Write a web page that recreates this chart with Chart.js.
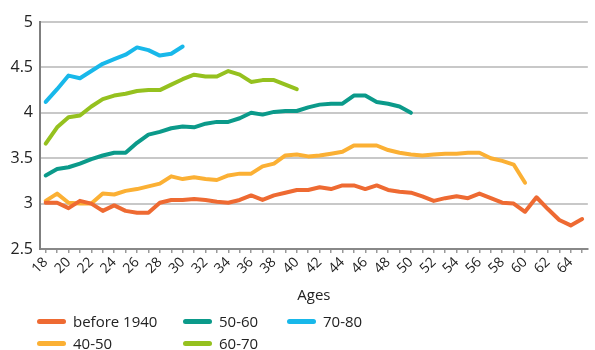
<!DOCTYPE html>
<html>
<head>
<meta charset="utf-8">
<script src="https://cdn.jsdelivr.net/npm/chart.js@4"></script>
<style>
  html, body { margin: 0; padding: 0; background: #fff; }
  #wrap { position: relative; width: 595px; height: 350px; font-family: "Open Sans", sans-serif; }
  #legend {
    position: absolute; left: 37px; top: 310px;
    display: grid; grid-template-columns: 146px 104px auto; grid-auto-flow: column;
    grid-template-rows: 22px 22px; font-size: 15px; color: #222;
  }
  .item { display: flex; align-items: center; white-space: nowrap; }
  .swatch { width: 29px; height: 5px; border-radius: 3px; margin-right: 7px; }
</style>
</head>
<body>
<div id="wrap">
  <canvas id="chart" width="595" height="350"></canvas>
  <div id="legend"></div>
</div>
<script>
// ages 18..65
const ages = [];
for (let a = 18; a <= 65; a++) ages.push(a);

const seriesNames = ["before 1940", "40-50", "50-60", "60-70", "70-80"];
const seriesColors = ["#ee6a32", "#fbb034", "#0b9a8a", "#95c11f", "#18b8ea"];

// before 1940, ages 18-65
const before1940 = [3.01, 3.01, 2.95, 3.03, 3.00, 2.92, 2.98, 2.92, 2.90, 2.90, 3.01, 3.04, 3.04, 3.05, 3.04, 3.02, 3.01,
  3.04, 3.09, 3.04, 3.09, 3.12, 3.15, 3.15, 3.18, 3.16, 3.20, 3.20, 3.16, 3.20, 3.15, 3.13,
  3.12, 3.08, 3.03, 3.06, 3.08, 3.06, 3.11, 3.06, 3.01, 3.00, 2.91, 3.07, 2.94, 2.82, 2.76, 2.83];
// 40-50, ages 18-60
const gen4050 = [3.03, 3.11, 3.01, 3.00, 3.00, 3.11, 3.10, 3.14, 3.16, 3.19, 3.22, 3.30, 3.27, 3.29, 3.27, 3.26, 3.31,
  3.33, 3.33, 3.41, 3.44, 3.53, 3.54, 3.52, 3.53, 3.55, 3.57, 3.64, 3.64, 3.64, 3.59, 3.56,
  3.54, 3.53, 3.54, 3.55, 3.55, 3.56, 3.56, 3.50, 3.47, 3.43, 3.23];
// 50-60, ages 18-50
const gen5060 = [3.31, 3.38, 3.40, 3.44, 3.49, 3.53, 3.56, 3.56, 3.67, 3.76, 3.79, 3.83, 3.85, 3.84, 3.88, 3.90, 3.90,
  3.94, 4.00, 3.98, 4.01, 4.02, 4.02, 4.06, 4.09, 4.10, 4.10, 4.19, 4.19, 4.12, 4.10, 4.07, 4.00];
// 60-70, ages 18-40
const gen6070 = [3.66, 3.84, 3.95, 3.97, 4.07, 4.15, 4.19, 4.21, 4.24, 4.25, 4.25, 4.31, 4.37, 4.42, 4.40, 4.40, 4.46,
  4.42, 4.34, 4.36, 4.36, 4.31, 4.26];
// 70-80, ages 18-30
const gen7080 = [4.12, 4.26, 4.41, 4.38, 4.46, 4.54, 4.59, 4.64, 4.72, 4.69, 4.63, 4.65, 4.73];

const seriesData = [before1940, gen4050, gen5060, gen6070, gen7080];

const datasets = seriesNames.map((name, i) => ({
  label: name,
  data: seriesData[i],
  borderColor: seriesColors[i],
  backgroundColor: seriesColors[i],
  borderWidth: 4,
  borderCapStyle: "round",
  borderJoinStyle: "round",
  pointRadius: 0,
  tension: 0,
  fill: false,
}));

const textColor = "#222";
Chart.defaults.font.family = '"Open Sans", sans-serif';

new Chart(document.getElementById("chart"), {
  type: "line",
  data: { labels: ages, datasets },
  options: {
    responsive: false,
    animation: false,
    layout: { padding: { top: 22, right: 0, bottom: 41, left: 0 } },
    plugins: { legend: { display: false }, tooltip: { enabled: false } },
    scales: {
      x: {
        offset: true,
        grid: { display: true, drawOnChartArea: false, drawTicks: true, tickLength: 4, color: "#999", lineWidth: 1.5 },
        border: { color: "#888", width: 2 },
        ticks: {
          autoSkip: false,
          minRotation: 45,
          maxRotation: 45,
          padding: 1,
          color: textColor,
          font: { size: 14 },
          callback: (v, i) => (ages[i] % 2 === 0 ? String(ages[i]) : ""),
        },
        title: { display: true, text: "Ages", color: textColor, font: { size: 15 }, padding: { top: 4, bottom: 4 } },
        afterFit: (scale) => { scale.height = 60; },
      },
      y: {
        min: 2.5,
        max: 5,
        ticks: { stepSize: 0.5, color: textColor, font: { size: 16 }, padding: 7, callback: (v) => String(v) },
        grid: { color: "#c8c8c8", lineWidth: 2, drawTicks: false },
        border: { color: "#7f7f7f", width: 2 },
        afterFit: (scale) => { scale.width = 40; },
      },
    },
  },
});

// legend laid out column-wise like the original
const legend = document.getElementById("legend");
seriesNames.forEach((name, i) => {
  const item = document.createElement("div");
  item.className = "item";
  item.innerHTML = `<span class="swatch" style="background:${seriesColors[i]}"></span>${name}`;
  legend.appendChild(item);
});
</script>
</body>
</html>
